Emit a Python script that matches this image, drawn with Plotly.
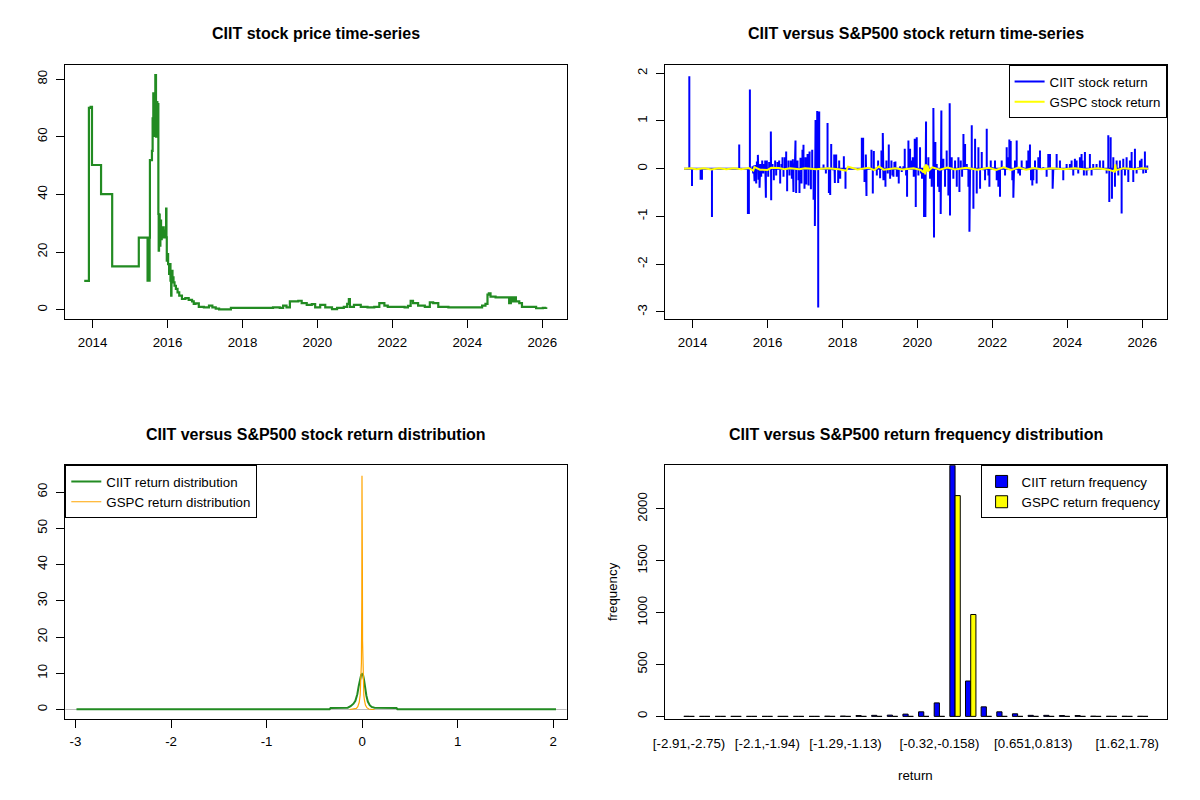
import numpy as np
import pandas as pd
import plotly.graph_objects as go

# ------------------------------------------------------------------ data
# CIIT price (decimal year, price) - step series
price_year = [2013.775, 2013.90, 2013.946, 2013.982, 2014.225, 2014.522, 2015.233, 2015.467,
              2015.485, 2015.503, 2015.521, 2015.530, 2015.584, 2015.602, 2015.620, 2015.638,
              2015.656, 2015.674, 2015.692, 2015.710, 2015.728, 2015.746, 2015.755, 2015.764,
              2015.773, 2015.791, 2015.809, 2015.827, 2015.845, 2015.872, 2015.899, 2015.935,
              2015.962, 2015.971, 2015.980, 2015.998, 2016.016, 2016.043, 2016.061, 2016.079,
              2016.097, 2016.106, 2016.133, 2016.160, 2016.187, 2016.223, 2016.268, 2016.313,
              2016.385, 2016.475, 2016.565, 2016.655, 2016.700, 2016.745, 2016.835, 2016.970,
              2017.105, 2017.195, 2017.285, 2017.375, 2017.555, 2017.690, 2018.275, 2018.770,
              2018.815, 2018.995, 2019.085, 2019.175, 2019.265, 2019.490, 2019.580, 2019.715,
              2019.850, 2019.940, 2020.075, 2020.210, 2020.390, 2020.525, 2020.705, 2020.795,
              2020.840, 2020.868, 2020.976, 2021.156, 2021.336, 2021.516, 2021.651, 2021.786,
              2021.876, 2022.146, 2022.326, 2022.416, 2022.488, 2022.551, 2022.686, 2022.866,
              2023.000, 2023.090, 2023.226, 2023.496, 2023.676, 2023.946, 2024.216, 2024.396,
              2024.486, 2024.540, 2024.576, 2024.621, 2024.756, 2025.071, 2025.116, 2025.161,
              2025.206, 2025.251, 2025.296, 2025.386, 2025.458, 2025.566, 2025.836, 2026.016,
              2026.106]
price_ciit = [10.0, 70.0, 70.4, 50.2, 40.1, 15.0, 25.0, 10.1,
              25.0, 10.1, 25.0, 51.9, 55.1, 66.4, 75.1, 60.3,
              71.9, 81.4, 60.0, 72.0, 63.0, 71.3, 33.2, 20.5,
              33.0, 22.2, 30.9, 24.5, 27.4, 28.6, 25.1, 27.4,
              35.1, 25.1, 17.0, 19.3, 15.8, 12.4, 15.8, 10.1,
              4.9, 13.5, 11.2, 9.5, 8.3, 7.2, 6.0, 4.9,
              3.7, 4.0, 3.4, 2.9, 2.0, 2.2, 1.0, 0.8,
              1.4, 0.8, 0.35, 0.1, 0.1, 0.6, 0.6, 0.6,
              0.8, 0.6, 1.4, 0.8, 2.9, 3.1, 2.3, 1.7,
              1.9, 0.8, 1.7, 0.8, 0.2, 0.6, 1.0, 2.0,
              3.7, 1.0, 1.7, 1.0, 0.8, 1.0, 2.3, 1.4,
              1.0, 1.0, 0.8, 1.3, 3.1, 2.3, 1.4, 1.0,
              2.5, 2.3, 1.0, 0.8, 0.8, 0.8, 0.8, 1.4,
              2.0, 5.2, 5.7, 4.5, 4.3, 4.3, 2.3, 4.3,
              2.9, 4.3, 2.9, 2.3, 1.0, 1.0, 0.5, 0.6,
              0.8]

# CIIT daily return spikes (decimal year, log return); zero on other days
ret_span = [2013.77, 2026.16]
ret_year = [2013.911, 2013.982, 2014.213, 2014.249, 2014.516, 2015.244, 2015.476, 2015.502,
            2015.529, 2015.600, 2015.618, 2015.636, 2015.653, 2015.680, 2015.698, 2015.716,
            2015.742, 2015.760, 2015.787, 2015.804, 2015.831, 2015.858, 2015.884, 2015.911,
            2015.938, 2015.956, 2015.982, 2016.018, 2016.044, 2016.089, 2016.098, 2016.133,
            2016.169, 2016.204, 2016.231, 2016.267, 2016.311, 2016.338, 2016.373, 2016.400,
            2016.427, 2016.462, 2016.498, 2016.524, 2016.560, 2016.587, 2016.622, 2016.649,
            2016.676, 2016.693, 2016.729, 2016.747, 2016.764, 2016.800, 2016.827, 2016.853,
            2016.880, 2016.907, 2016.933, 2016.960, 2016.987, 2017.013, 2017.031, 2017.067,
            2017.093, 2017.120, 2017.156, 2017.191, 2017.227, 2017.262, 2017.280, 2017.324,
            2017.351, 2017.378, 2017.493, 2017.556, 2017.600, 2017.636, 2017.671, 2017.698,
            2017.742, 2017.778, 2017.796, 2017.831, 2017.884, 2017.911, 2017.938, 2018.036,
            2018.080, 2018.516, 2018.551, 2018.587, 2018.622, 2018.640, 2018.773, 2018.809,
            2018.836, 2018.871, 2018.916, 2018.951, 2019.004, 2019.040, 2019.076, 2019.093,
            2019.147, 2019.173, 2019.209, 2019.236, 2019.271, 2019.307, 2019.333, 2019.360,
            2019.387, 2019.413, 2019.449, 2019.502, 2019.538, 2019.582, 2019.627, 2019.662,
            2019.698, 2019.724, 2019.760, 2019.787, 2019.804, 2019.840, 2019.876, 2019.902,
            2019.929, 2019.956, 2019.982, 2020.027, 2020.071, 2020.098, 2020.124, 2020.178,
            2020.213, 2020.231, 2020.267, 2020.293, 2020.338, 2020.382, 2020.427, 2020.444,
            2020.480, 2020.516, 2020.551, 2020.587, 2020.622, 2020.640, 2020.667, 2020.693,
            2020.738, 2020.782, 2020.827, 2020.862, 2020.871, 2020.916, 2020.960, 2021.004,
            2021.049, 2021.093, 2021.120, 2021.156, 2021.191, 2021.227, 2021.271, 2021.316,
            2021.360, 2021.387, 2021.404, 2021.449, 2021.493, 2021.538, 2021.582, 2021.627,
            2021.671, 2021.716, 2021.760, 2021.804, 2021.849, 2021.893, 2021.920, 2021.956,
            2022.009, 2022.071, 2022.116, 2022.160, 2022.204, 2022.249, 2022.338, 2022.382,
            2022.418, 2022.453, 2022.489, 2022.533, 2022.560, 2022.578, 2022.604, 2022.649,
            2022.693, 2022.738, 2022.782, 2022.827, 2022.916, 2022.960, 2023.004, 2023.031,
            2023.067, 2023.093, 2023.138, 2023.182, 2023.227, 2023.271, 2023.360, 2023.449,
            2023.493, 2023.538, 2023.609, 2023.627, 2023.716, 2023.804, 2023.893, 2023.982,
            2024.071, 2024.116, 2024.160, 2024.204, 2024.249, 2024.293, 2024.338, 2024.382,
            2024.409, 2024.444, 2024.471, 2024.516, 2024.560, 2024.604, 2024.649, 2024.693,
            2024.782, 2024.871, 2024.960, 2025.049, 2025.093, 2025.120, 2025.156, 2025.191,
            2025.227, 2025.271, 2025.316, 2025.360, 2025.404, 2025.449, 2025.493, 2025.538,
            2025.582, 2025.627, 2025.671, 2025.716, 2025.760, 2025.804, 2025.849, 2025.893,
            2025.938, 2025.982, 2026.027, 2026.071, 2026.098, 2026.133]
ret_ciit = [1.94, -0.36, -0.23, -0.23, -1.01, 0.51, -0.95, -0.95,
            1.66, 0.05, -0.10, 0.07, -0.26, 0.08, -0.31, 0.15,
            0.29, -0.23, -0.40, 0.10, -0.17, 0.17, -0.10, 0.10,
            0.17, -0.61, 0.17, -0.17, 0.14, 0.78, -0.66, 0.10,
            -0.24, 0.17, -0.14, 0.14, 0.17, -0.31, 0.10, 0.24,
            -0.17, 0.24, 0.36, -0.47, 0.17, -0.14, 0.17, -0.21,
            0.20, -0.49, 0.17, 0.59, -0.51, 0.17, -0.24, -0.51,
            0.23, -0.31, 0.40, 0.50, -0.42, 0.24, -0.33, 0.31,
            -0.35, 0.36, -0.43, 0.40, -0.65, -1.20, 1.02, 1.21,
            -2.91, 1.20, 0.09, -0.10, 0.96, -0.51, -0.55, 0.52,
            -0.03, 0.30, -0.30, 0.30, -0.30, 0.17, -0.21, 0.26,
            -0.42, 0.65, 0.65, -0.28, 0.30, -0.57, 0.40, -0.52,
            0.37, -0.03, -0.14, 0.17, -0.20, 0.38, 0.75, -0.24,
            -0.38, 0.17, -0.10, 0.51, -0.21, 0.17, -0.14, -0.17,
            0.14, 0.15, -0.17, -0.31, 0.05, -0.07, 0.05, 0.42,
            -0.14, -0.59, 0.59, 0.24, 0.42, 0.17, 0.24, -0.17,
            0.63, -0.80, 0.66, -0.14, 0.45, -0.10, -0.21, -1.01,
            -1.01, 0.99, 0.03, 0.24, -0.21, -0.38, 1.27, -1.44,
            0.56, 0.10, -0.38, -0.49, -0.95, 1.22, -0.03, 0.21,
            -0.38, 0.38, -0.56, 1.37, -0.98, 0.24, -0.21, 0.17,
            -0.38, 0.24, -0.49, 0.17, -0.17, 0.73, 0.52, 0.10,
            -0.38, -1.32, -0.49, 0.91, -0.84, 0.63, -0.52, 0.45,
            -0.42, 0.35, -0.03, -0.24, 0.84, -0.14, -0.38, 0.17,
            0.03, 0.17, -0.24, -0.38, -0.59, 0.17, -0.14, 0.45,
            0.24, 0.61, 0.58, -0.24, -0.61, -0.31, 0.17, 0.59,
            -0.10, -0.14, 0.17, 0.03, 0.17, 0.38, 0.51, -0.24,
            -0.35, -0.24, 0.17, -0.31, 0.24, 0.38, 0.03, -0.17,
            0.31, 0.31, -0.42, -0.03, 0.31, 0.17, -0.24, 0.10,
            0.10, 0.17, -0.14, 0.21, 0.17, -0.10, 0.24, 0.31,
            0.17, -0.14, 0.35, -0.14, -0.03, 0.31, -0.14, 0.10,
            0.10, 0.17, 0.17, -0.10, 0.70, -0.70, 0.66, -0.63,
            0.24, -0.38, 0.17, -0.14, 0.17, -0.94, 0.21, -0.14,
            0.24, -0.28, 0.17, 0.35, -0.28, 0.42, -0.10, 0.03,
            0.17, 0.21, -0.10, 0.36, -0.09, 0.07]

# S&P500 (GSPC) returns, sampled dates
gspc_year = [2013.77, 2013.95, 2014.10, 2014.30, 2014.50, 2014.70, 2014.90, 2015.10,
             2015.30, 2015.50, 2015.62, 2015.65, 2015.80, 2016.00, 2016.10, 2016.30,
             2016.45, 2016.60, 2016.85, 2017.00, 2017.30, 2017.60, 2017.90, 2018.10,
             2018.15, 2018.40, 2018.70, 2018.85, 2018.97, 2019.10, 2019.40, 2019.60,
             2019.90, 2020.10, 2020.17, 2020.19, 2020.21, 2020.23, 2020.25, 2020.27,
             2020.30, 2020.40, 2020.60, 2020.80, 2021.00, 2021.30, 2021.60, 2021.90,
             2022.10, 2022.30, 2022.50, 2022.70, 2022.90, 2023.10, 2023.30, 2023.60,
             2023.90, 2024.20, 2024.50, 2024.80, 2025.10, 2025.26, 2025.28, 2025.30,
             2025.50, 2025.80, 2026.00, 2026.16]
gspc_ret = [0.0, 0.008, -0.012, 0.010, -0.015, 0.012, -0.010, 0.009,
            -0.012, 0.014, -0.040, 0.035, -0.020, -0.025, 0.020, 0.015,
            -0.012, 0.010, -0.010, 0.008, -0.010, 0.009, -0.012, -0.040,
            0.040, -0.015, 0.020, -0.030, 0.045, -0.020, 0.012, -0.015,
            0.010, -0.030, -0.080, 0.060, -0.120, 0.090, -0.060, 0.070,
            -0.040, 0.030, -0.020, 0.025, -0.015, 0.020, -0.020, 0.018,
            -0.025, 0.030, -0.028, 0.025, -0.020, 0.015, -0.012, 0.010,
            -0.010, 0.012, -0.015, 0.010, -0.020, -0.060, 0.090, -0.030,
            0.012, -0.010, 0.008, 0.0]

# kernel densities of returns
dens_ciit_x = [-2.99, -0.34, -0.33, -0.15, -0.12, -0.09, -0.07, -0.05, -0.035, -0.02, -0.01,
               0.0, 0.01, 0.02, 0.03, 0.045, 0.06, 0.08, 0.10, 0.13, 0.36, 0.37, 2.03]
dens_ciit_y = [0.1, 0.1, 0.4, 0.5, 0.9, 1.6, 2.4, 4.2, 6.5, 8.5, 9.5,
               9.8, 9.5, 8.2, 6.0, 3.8, 2.2, 1.2, 0.7, 0.5, 0.45, 0.1, 0.1]
dens_gspc_x = [-0.13, -0.08, -0.06, -0.045, -0.03, -0.02, -0.012, -0.007, -0.003, -0.001, 0.001,
               0.003, 0.005, 0.008, 0.012, 0.018, 0.025, 0.035, 0.05, 0.07, 0.10, 0.13]
dens_gspc_y = [0.0, 0.1, 0.3, 0.8, 2.0, 4.0, 8.0, 13.0, 30.0, 64.5, 64.0,
               40.0, 19.0, 12.0, 7.0, 4.0, 2.5, 1.2, 0.5, 0.15, 0.03, 0.0]

# return frequency histogram (30 bins)
bin_labels = ["[-2.91,-2.75)", "[-2.75,-2.59)", "[-2.59,-2.42)", "[-2.42,-2.26)", "[-2.26,-2.1)",
              "[-2.1,-1.94)", "[-1.94,-1.78)", "[-1.78,-1.61)", "[-1.61,-1.45)", "[-1.45,-1.29)",
              "[-1.29,-1.13)", "[-1.13,-0.967)", "[-0.967,-0.806)", "[-0.806,-0.644)", "[-0.644,-0.482)",
              "[-0.482,-0.32)", "[-0.32,-0.158)", "[-0.158,0.0036)", "[0.0036,0.166)", "[0.166,0.327)",
              "[0.327,0.489)", "[0.489,0.651)", "[0.651,0.813)", "[0.813,0.975)", "[0.975,1.14)",
              "[1.14,1.3)", "[1.3,1.46)", "[1.46,1.62)", "[1.62,1.78)", "[1.78,1.95]"]
freq_ciit = [1, 0, 0, 0, 0, 0, 0, 0, 0, 2, 3, 8, 10, 12, 22, 44, 130, 2420, 341, 92,
             44, 25, 10, 10, 8, 8, 2, 1, 1, 1]
freq_gspc = [0, 0, 0, 0, 0, 0, 0, 0, 0, 0, 0, 0, 0, 0, 0, 0, 0, 2128, 982, 0,
             0, 0, 0, 0, 0, 0, 0, 0, 0, 0]
shown_bins = [0, 5, 10, 16, 22, 28]

# axis tick values
price_ticks = [0, 20, 40, 60, 80]
ret_ticks = [-3, -2, -1, 0, 1, 2]
dens_xticks = [-3, -2, -1, 0, 1, 2]
dens_yticks = [0, 10, 20, 30, 40, 50, 60]
freq_ticks = [0, 500, 1000, 1500, 2000]

# ------------------------------------------------------------------ helpers
def to_date(y):
    base = int(np.floor(y))
    return pd.Timestamp(base, 1, 1) + pd.Timedelta(days=float((y - base) * 365.25))

def lab(v):
    return "%g" % v

FONT = "Liberation Sans, Arial, sans-serif"
FS = 13.3
W, H = 1200, 800

def px_x(p):
    return p / W

def px_y(p):
    return 1 - p / H

L1, R1, L2, R2 = 65.3, 566.6, 665.3, 1166.6
T1, B1, T2, B2 = 65.3, 318.9, 465.3, 718.9

fig = go.Figure()

# --- panel 1: price
fig.add_trace(go.Scatter(x=[to_date(v) for v in price_year], y=price_ciit, mode="lines",
                         line=dict(color="#228B22", width=2.2, shape="hv"),
                         showlegend=False, xaxis="x", yaxis="y", name="CIIT price"))

# --- panel 2: returns (CIIT spikes built from the return list)
rx = [to_date(ret_span[0])]
ry = [0.0]
for yv, rv in zip(ret_year, ret_ciit):
    d = to_date(yv)
    rx += [d, d, d]
    ry += [0.0, rv, 0.0]
rx.append(to_date(ret_span[1]))
ry.append(0.0)
fig.add_trace(go.Scatter(x=rx, y=ry, mode="lines", line=dict(color="#0000FF", width=2),
                         name="CIIT stock return", legend="legend2", xaxis="x2", yaxis="y2"))
fig.add_trace(go.Scatter(x=[to_date(v) for v in gspc_year], y=gspc_ret, mode="lines",
                         line=dict(color="#FFFF00", width=2),
                         name="GSPC stock return", legend="legend2", xaxis="x2", yaxis="y2"))

# --- panel 3: densities
fig.add_trace(go.Scatter(x=dens_ciit_x, y=dens_ciit_y, mode="lines",
                         line=dict(color="#228B22", width=2),
                         name="CIIT return distribution", legend="legend", xaxis="x3", yaxis="y3"))
fig.add_trace(go.Scatter(x=dens_gspc_x, y=dens_gspc_y, mode="lines",
                         line=dict(color="#FFA500", width=1.2),
                         name="GSPC return distribution", legend="legend", xaxis="x3", yaxis="y3"))

# --- panel 4: frequency bars
centers = [2 + 3 * g for g in range(len(bin_labels))]
fig.add_trace(go.Bar(x=centers, y=freq_ciit, marker=dict(color="#0000FF", line=dict(color="black", width=1)),
                     name="CIIT return frequency", legend="legend3", xaxis="x4", yaxis="y4"))
fig.add_trace(go.Bar(x=centers, y=freq_gspc, marker=dict(color="#FFFF00", line=dict(color="black", width=1)),
                     name="GSPC return frequency", legend="legend3", xaxis="x4", yaxis="y4"))

axis_common = dict(showline=True, linecolor="black", linewidth=1, mirror=True, showgrid=False,
                   zeroline=False, ticks="outside", ticklen=8, tickwidth=1, tickcolor="black",
                   automargin=False,
                   tickfont=dict(family=FONT, size=FS, color="black"))
yaxis_common = dict(axis_common, tickangle=-90, ticklabelstandoff=4)

def arr(vals):
    return dict(tickmode="array", tickvals=vals, ticktext=[lab(v) for v in vals])

xr = [to_date(2013.27), to_date(2026.65)]

fig.update_layout(
    width=W, height=H, margin=dict(l=0, r=0, t=0, b=0, autoexpand=False),
    plot_bgcolor="white", paper_bgcolor="white",
    font=dict(family=FONT, size=FS, color="black"),
    barmode="group", bargap=1 / 3, bargroupgap=0,
    xaxis=dict(axis_common, domain=[px_x(L1), px_x(R1)], anchor="y", type="date", range=xr,
               tick0="2014-01-01", dtick="M24", tickformat="%Y", ticklabelstandoff=3),
    yaxis=dict(yaxis_common, **arr(price_ticks), domain=[px_y(B1), px_y(T1)], anchor="x",
               range=[-3.2, 84.8]),
    xaxis2=dict(axis_common, domain=[px_x(L2), px_x(R2)], anchor="y2", type="date", range=xr,
                tick0="2014-01-01", dtick="M24", tickformat="%Y", ticklabelstandoff=3),
    yaxis2=dict(yaxis_common, **arr(ret_ticks), domain=[px_y(B1), px_y(T1)], anchor="x2",
                range=[-3.147, 2.167]),
    xaxis3=dict(axis_common, **arr(dens_xticks), domain=[px_x(L1), px_x(R1)], anchor="y3",
                range=[-3.107, 2.141], ticklabelstandoff=2),
    yaxis3=dict(yaxis_common, **arr(dens_yticks), domain=[px_y(B2), px_y(T2)], anchor="x3",
                range=[-2.59, 67.37]),
    xaxis4=dict(axis_common, domain=[px_x(L2), px_x(R2)], anchor="y4", range=[-2.56, 93.56], ticks="",
                tickmode="array", tickvals=[centers[g] for g in shown_bins],
                ticktext=[bin_labels[g] for g in shown_bins], ticklabelstandoff=12),
    yaxis4=dict(yaxis_common, **arr(freq_ticks), domain=[px_y(B2), px_y(T2)], anchor="x4",
                range=[-24.2, 2420]),
)

leg_common = dict(bgcolor="white", bordercolor="black", borderwidth=1,
                  font=dict(family=FONT, size=FS, color="black"), tracegroupgap=0,
                  yanchor="top", orientation="v")
fig.update_layout(
    legend=dict(leg_common, x=px_x(L1), xanchor="left", y=px_y(T2)),
    legend2=dict(leg_common, x=px_x(R2), xanchor="right", y=px_y(T1)),
    legend3=dict(leg_common, x=px_x(R2), xanchor="right", y=px_y(T2)),
)

# zero line of density plot
fig.add_shape(type="line", xref="x3 domain", yref="y3", x0=0, x1=1, y0=0, y1=0,
              line=dict(color="#BEBEBE", width=1), layer="below")

titles = [("CIIT stock price time-series", (L1 + R1) / 2, 34),
          ("CIIT versus S&P500 stock return time-series", (L2 + R2) / 2, 34),
          ("CIIT versus S&P500 stock return distribution", (L1 + R1) / 2, 434),
          ("CIIT versus S&P500 return frequency distribution", (L2 + R2) / 2, 434)]
for txt, cx, cy in titles:
    fig.add_annotation(text="<b>%s</b>" % txt, xref="paper", yref="paper", x=px_x(cx), y=px_y(cy),
                       xanchor="center", yanchor="middle", showarrow=False,
                       font=dict(family=FONT, size=16, color="black"))

fig.add_annotation(text="frequency", xref="paper", yref="paper", x=px_x(612), y=px_y((T2 + B2) / 2),
                   textangle=-90, showarrow=False, xanchor="center", yanchor="middle",
                   font=dict(family=FONT, size=FS, color="black"))
fig.add_annotation(text="return", xref="paper", yref="paper", x=px_x((L2 + R2) / 2), y=px_y(775),
                   showarrow=False, xanchor="center", yanchor="middle",
                   font=dict(family=FONT, size=FS, color="black"))

fig.write_html("out.html", config={"displayModeBar": False},
               post_script="document.body.style.margin='0';")
